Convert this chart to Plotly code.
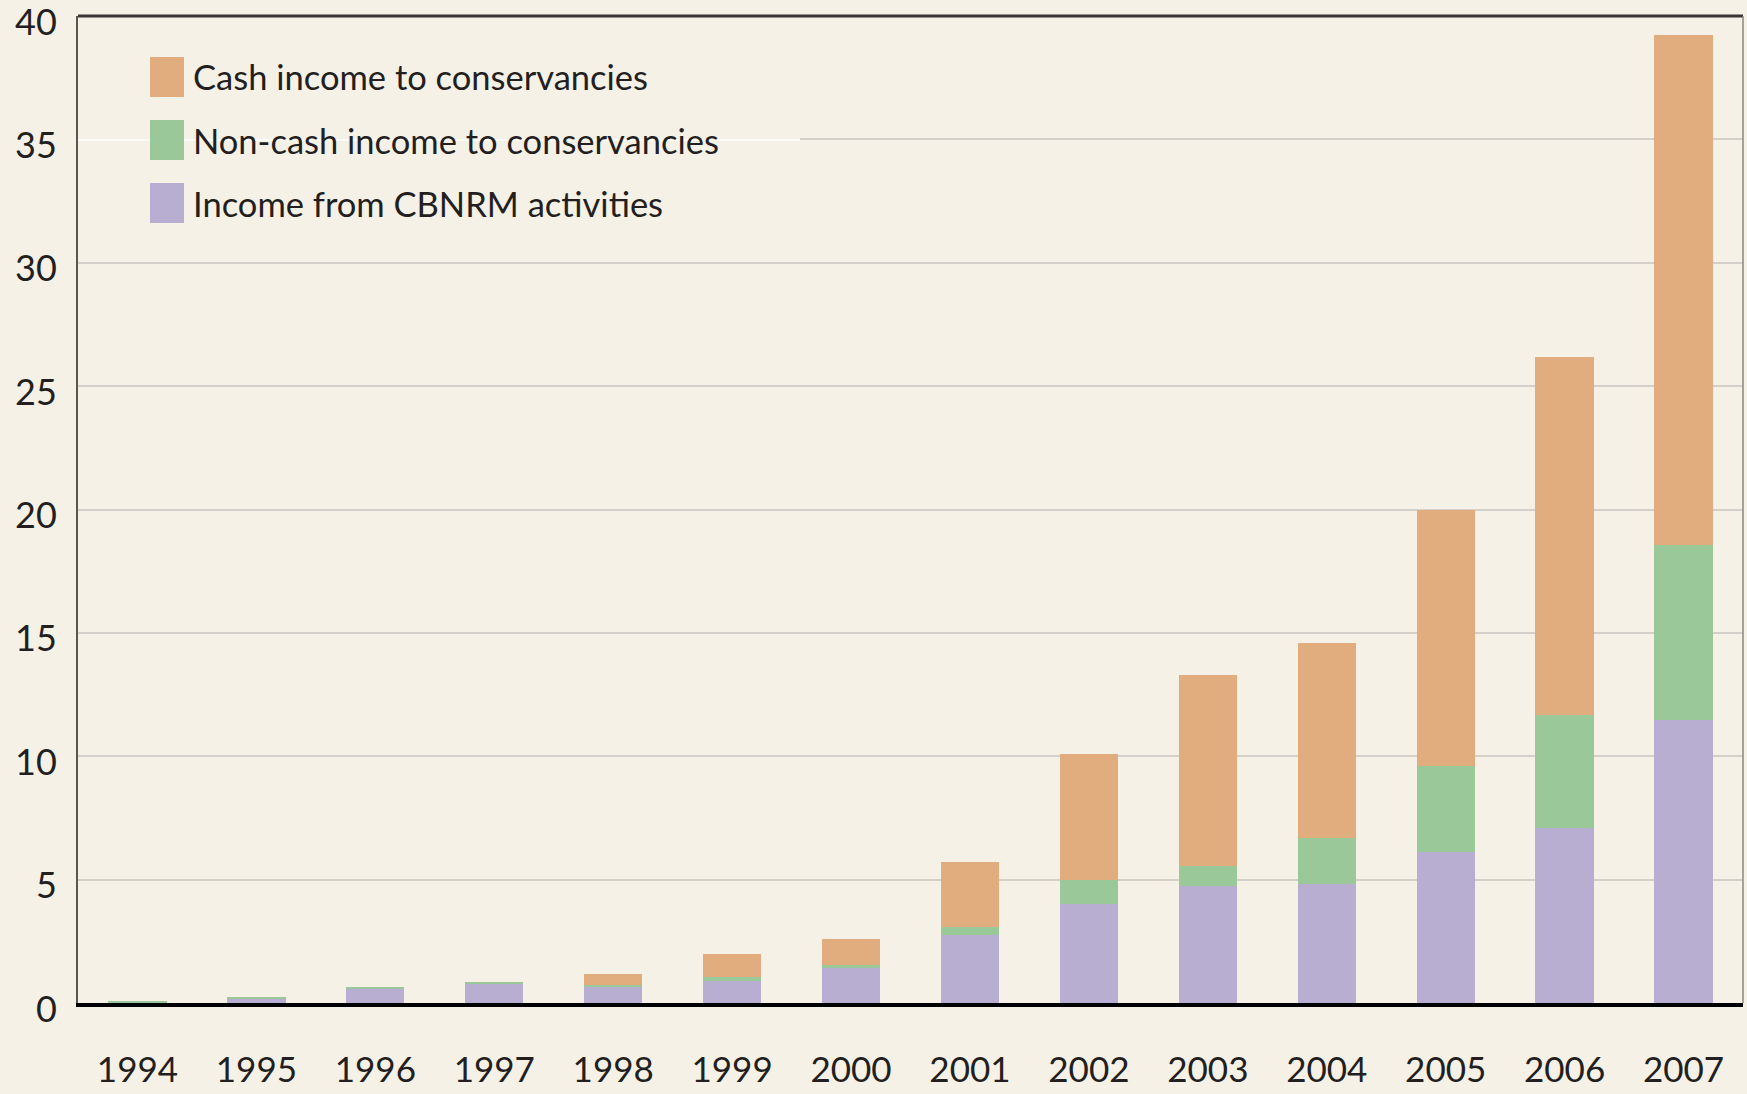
import plotly.graph_objects as go

years = ["1994", "1995", "1996", "1997", "1998", "1999", "2000",
         "2001", "2002", "2003", "2004", "2005", "2006", "2007"]
cbnrm = [0.02, 0.15, 0.60, 0.80, 0.63, 0.90, 1.40, 2.76, 4.03, 4.75, 4.84, 6.10, 7.10, 11.45]
noncash = [0.04, 0.10, 0.03, 0.06, 0.09, 0.14, 0.14, 0.32, 0.97, 0.82, 1.86, 3.50, 4.58, 7.11]
cash = [0.00, 0.00, 0.00, 0.00, 0.46, 0.96, 1.06, 2.62, 5.10, 7.73, 7.88, 10.40, 14.52, 20.69]

series_names = ["Cash income to conservancies",
                "Non-cash income to conservancies",
                "Income from CBNRM activities"]
colors = {"cash": "#e2ad7e", "noncash": "#9bc898", "cbnrm": "#b8aed1"}
ytick_vals = [0, 5, 10, 15, 20, 25, 30, 35, 40]

BG = "#f5f1e6"
TXT = "#231f20"
FONT = "Lato, Roboto, sans-serif"

fig = go.Figure()
fig.add_trace(go.Bar(x=years, y=cbnrm, name=series_names[2],
                     marker=dict(color=colors["cbnrm"], line=dict(width=0))))
fig.add_trace(go.Bar(x=years, y=noncash, name=series_names[1],
                     marker=dict(color=colors["noncash"], line=dict(width=0))))
fig.add_trace(go.Bar(x=years, y=cash, name=series_names[0],
                     marker=dict(color=colors["cash"], line=dict(width=0))))

ML, MR, MT, MB = 78, 4, 16, 91
W, H = 1747, 1094
fig.update_layout(
    width=W, height=H,
    margin=dict(l=ML, r=MR, t=MT, b=MB, autoexpand=False),
    paper_bgcolor=BG, plot_bgcolor=BG,
    barmode="stack", bargap=0.51,
    showlegend=False,
    font=dict(family=FONT, color=TXT, size=36),
)
fig.update_xaxes(
    type="category", range=[-0.5, 13.5],
    showgrid=False, showline=True, linecolor="#000000", linewidth=4,
    ticks="outside", ticklen=0, tickcolor="rgba(0,0,0,0)",
    ticklabelstandoff=33,
    tickfont=dict(size=35, family=FONT, color=TXT),
)
fig.update_yaxes(
    range=[0, 40], tickvals=ytick_vals,
    showgrid=True, gridcolor="#d2d0c8", gridwidth=2,
    zeroline=False,
    showline=True, linecolor="#5a5650", linewidth=2,
    ticks="outside", ticklen=0, tickcolor="rgba(0,0,0,0)",
    ticklabelstandoff=12, ticklabeloverflow="allow", ticklabelshift=6,
    tickfont=dict(size=36, family=FONT, color=TXT),
)

plot_h = H - MT - MB
plot_w = W - ML - MR
def py(ypix):
    return 1 - (ypix - MT) / plot_h
def px(xpix):
    return (xpix - ML) / plot_w

# light band over the 35 gridline behind the legend
fig.add_shape(type="line", xref="paper", yref="y", x0=0, x1=px(800), y0=35, y1=35,
              line=dict(color="#fcfbf7", width=2.5))
# frame: top and right borders
fig.add_shape(type="line", xref="paper", yref="paper", x0=0, x1=1, y0=1, y1=1,
              line=dict(color="#3a3733", width=3))
fig.add_shape(type="line", xref="paper", yref="paper", x0=1, x1=1, y0=0, y1=1,
              line=dict(color="#8a8780", width=1.5))

# manual legend (large swatches)
legend_items = [(series_names[0], colors["cash"]),
                (series_names[1], colors["noncash"]),
                (series_names[2], colors["cbnrm"])]
centers = [77, 140, 203]
for (name, col), cy in zip(legend_items, centers):
    fig.add_shape(type="rect", xref="paper", yref="paper",
                  x0=px(150), x1=px(184), y0=py(cy - 20), y1=py(cy + 20),
                  fillcolor=col, line=dict(width=0))
    fig.add_annotation(xref="paper", yref="paper", x=px(191), y=py(cy),
                       text=name, showarrow=False, xanchor="left", yanchor="middle",
                       font=dict(size=34.5, family=FONT, color=TXT))

fig.write_html("out.html", config={"displayModeBar": False},
               post_script="document.body.style.margin='0';document.body.style.padding='0';")
